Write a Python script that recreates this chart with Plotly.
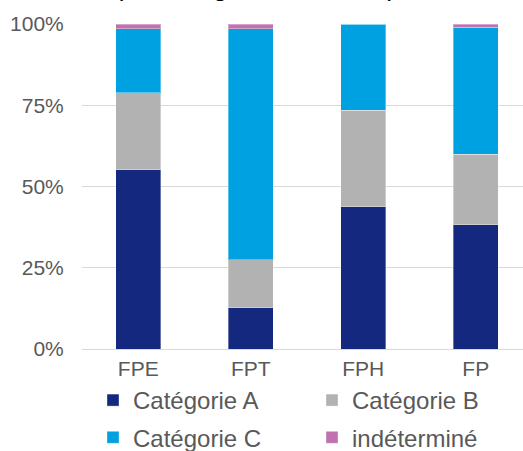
import plotly.graph_objects as go

categories = ["FPE", "FPT", "FPH", "FP"]
cat_a = [55.2, 12.7, 43.7, 38.2]
cat_b = [23.6, 14.7, 29.8, 21.8]
cat_c = [19.8, 71.2, 26.5, 39.0]
indet = [1.4, 1.4, 0.0, 1.0]
series_names = ["Catégorie A", "Catégorie B", "Catégorie C", "indéterminé"]
colors = ["#14287F", "#B2B2B2", "#00A1E0", "#C072B0"]
legend_ids = ["legend", "legend2", "legend", "legend2"]
tick_vals = [0, 25, 50, 75, 100]
tick_text = ["0%", "25%", "50%", "75%", "100%"]

fig = go.Figure()
for name, vals, col, lg in zip(series_names, [cat_a, cat_b, cat_c, indet], colors, legend_ids):
    fig.add_trace(go.Bar(
        x=categories, y=vals, name=name, legend=lg, legendgroup=name,
        marker=dict(color=col, line=dict(color="rgba(255,255,255,0.35)", width=1)),
        width=0.4,
    ))

FONT = "Liberation Sans, Arial, sans-serif"
leg_common = dict(orientation="v", xref="container", yref="container",
                  yanchor="top", xanchor="left", itemwidth=30,
                  traceorder="grouped", tracegroupgap=3,
                  font=dict(size=24, color="#595959"), bgcolor="rgba(0,0,0,0)")
fig.update_layout(
    barmode="stack",
    width=523, height=451,
    margin=dict(l=82, r=0, t=24, b=102, autoexpand=False),
    plot_bgcolor="white", paper_bgcolor="white",
    font=dict(family=FONT, color="#595959", size=21),
    xaxis=dict(range=[-0.5, 3.42], showgrid=False, showline=False,
               ticks="outside", ticklen=1, tickcolor="rgba(0,0,0,0)", automargin=False,
               tickfont=dict(size=21, color="#595959")),
    yaxis=dict(range=[0, 100], tickvals=tick_vals, ticktext=tick_text,
               showgrid=True, gridcolor="#D9D9D9", gridwidth=1,
               zeroline=True, zerolinecolor="#D9D9D9", zerolinewidth=1,
               ticks="outside", ticklen=13, tickcolor="rgba(0,0,0,0)",
               automargin=False,
               tickfont=dict(size=21, color="#595959")),
    legend=dict(x=93/523, y=1 - 378/451, **leg_common),
    legend2=dict(x=312/523, y=1 - 378/451, **leg_common),
    showlegend=True,
)
fig.add_annotation(text="<i>par catégorie hiérarchique</i>", xref="paper", yref="paper",
                   x=0.42, xshift=4, y=1, yshift=20, yanchor="bottom", showarrow=False,
                   font=dict(size=26, color="#000000", family=FONT))
fig.write_html("out.html", config={"displayModeBar": False},
               post_script="document.body.style.margin='0';")
